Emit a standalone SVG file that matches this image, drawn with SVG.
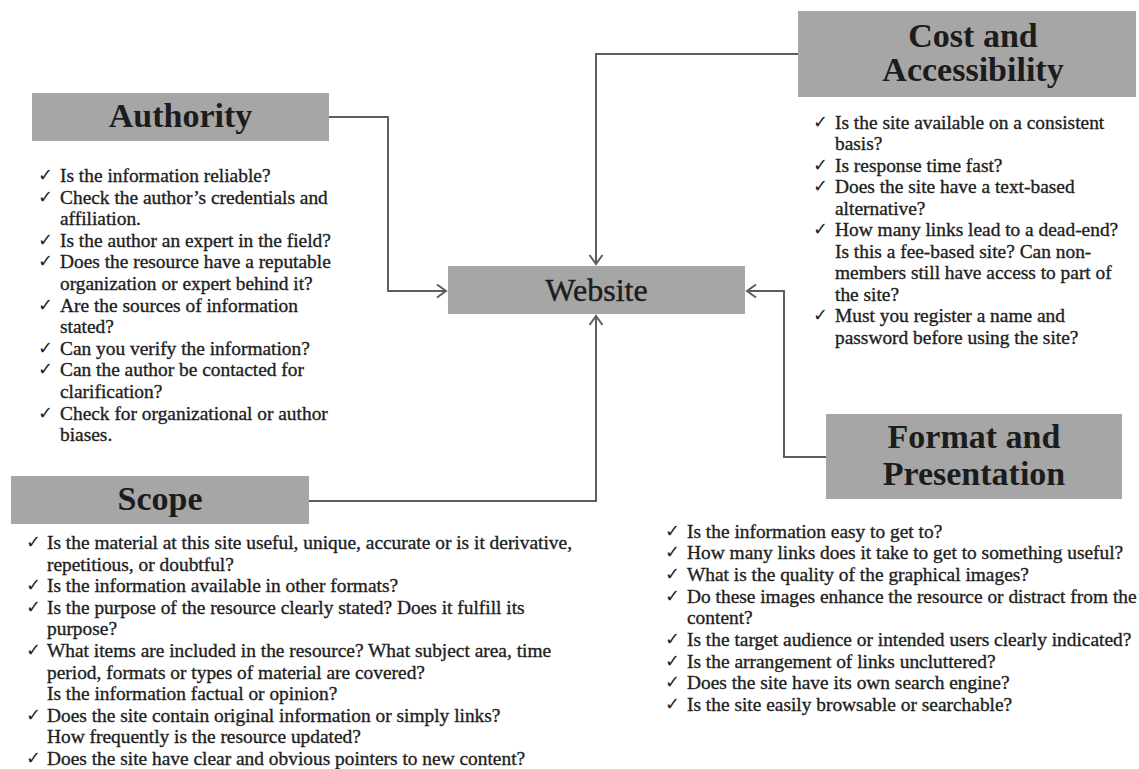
<svg xmlns="http://www.w3.org/2000/svg" width="1139" height="769" viewBox="0 0 1139 769">
<defs>
<style>
.box{fill:#a6a6a6;}
.title{font-family:"Liberation Serif","Times New Roman",serif;font-weight:bold;font-size:34px;fill:#1c1c1c;text-anchor:middle;}
.center{font-family:"Liberation Serif","Times New Roman",serif;font-size:32px;fill:#1c1c1c;stroke:#1c1c1c;stroke-width:0.4;text-anchor:middle;}
.item{font-family:"Liberation Serif","Times New Roman",serif;font-size:19.4px;fill:#1e1e1e;stroke:#1e1e1e;stroke-width:0.35;}
.chk{font-family:"DejaVu Sans",sans-serif;font-size:18px;font-weight:bold;fill:#1e1e1e;}
.conn{fill:none;stroke:#5e5e5e;stroke-width:2;}
</style>
<marker id="arr" markerUnits="userSpaceOnUse" markerWidth="14" markerHeight="16" refX="11" refY="8" orient="auto">
<path d="M2,1.5 L11,8 L2,14.5" fill="none" stroke="#5e5e5e" stroke-width="2"/>
</marker>
</defs>
<rect width="1139" height="769" fill="#ffffff"/>

<g id="connectors">
<path class="conn" d="M329,117 H388 V291 H446" marker-end="url(#arr)"/>
<path class="conn" d="M798,54 H596 V264" marker-end="url(#arr)"/>
<path class="conn" d="M309,501 H596 V316" marker-end="url(#arr)"/>
<path class="conn" d="M826,457 H784 V291 H747" marker-end="url(#arr)"/>
</g>

<g id="website">
<rect class="box" x="448" y="266" width="297" height="48"/>
<text class="center" x="596.5" y="301">Website</text>
</g>

<g id="authority">
<rect class="box" x="32" y="93" width="297" height="48"/>
<text class="title" x="180.5" y="127">Authority</text>
<g class="chk">
<text x="38" y="181">✓</text>
<text x="38" y="202.6">✓</text>
<text x="38" y="245.8">✓</text>
<text x="38" y="267.4">✓</text>
<text x="38" y="310.6">✓</text>
<text x="38" y="353.8">✓</text>
<text x="38" y="375.4">✓</text>
<text x="38" y="418.6">✓</text>
</g>
<g class="item">
<text x="60" y="182">Is the information reliable?</text>
<text x="60" y="203.6">Check the author’s credentials and</text>
<text x="60" y="225.2">affiliation.</text>
<text x="60" y="246.8">Is the author an expert in the field?</text>
<text x="60" y="268.4">Does the resource have a reputable</text>
<text x="60" y="290">organization or expert behind it?</text>
<text x="60" y="311.6">Are the sources of information</text>
<text x="60" y="333.2">stated?</text>
<text x="60" y="354.8">Can you verify the information?</text>
<text x="60" y="376.4">Can the author be contacted for</text>
<text x="60" y="398">clarification?</text>
<text x="60" y="419.6">Check for organizational or author</text>
<text x="60" y="441.2">biases.</text>
</g>
</g>

<g id="cost">
<rect class="box" x="798" y="11" width="338" height="86"/>
<text class="title" x="973" y="47">Cost and</text>
<text class="title" x="973" y="81">Accessibility</text>
<g class="chk">
<text x="813" y="127.5">✓</text>
<text x="813" y="170.5">✓</text>
<text x="813" y="192">✓</text>
<text x="813" y="235">✓</text>
<text x="813" y="321">✓</text>
</g>
<g class="item">
<text x="835" y="128.5">Is the site available on a consistent</text>
<text x="835" y="150">basis?</text>
<text x="835" y="171.5">Is response time fast?</text>
<text x="835" y="193">Does the site have a text-based</text>
<text x="835" y="214.5">alternative?</text>
<text x="835" y="236">How many links lead to a dead-end?</text>
<text x="835" y="257.5">Is this a fee-based site? Can non-</text>
<text x="835" y="279">members still have access to part of</text>
<text x="835" y="300.5">the site?</text>
<text x="835" y="322">Must you register a name and</text>
<text x="835" y="343.5">password before using the site?</text>
</g>
</g>

<g id="format">
<rect class="box" x="826" y="414" width="296" height="85"/>
<text class="title" x="974" y="448">Format and</text>
<text class="title" x="974" y="485">Presentation</text>
<g class="chk">
<text x="665" y="536.5">✓</text>
<text x="665" y="558.2">✓</text>
<text x="665" y="579.9">✓</text>
<text x="665" y="601.6">✓</text>
<text x="665" y="645">✓</text>
<text x="665" y="666.7">✓</text>
<text x="665" y="688.4">✓</text>
<text x="665" y="710.1">✓</text>
</g>
<g class="item">
<text x="687" y="537.5">Is the information easy to get to?</text>
<text x="687" y="559.2">How many links does it take to get to something useful?</text>
<text x="687" y="580.9">What is the quality of the graphical images?</text>
<text x="687" y="602.6">Do these images enhance the resource or distract from the</text>
<text x="687" y="624.3">content?</text>
<text x="687" y="646">Is the target audience or intended users clearly indicated?</text>
<text x="687" y="667.7">Is the arrangement of links uncluttered?</text>
<text x="687" y="689.4">Does the site have its own search engine?</text>
<text x="687" y="711.1">Is the site easily browsable or searchable?</text>
</g>
</g>

<g id="scope">
<rect class="box" x="11" y="476" width="298" height="48"/>
<text class="title" x="160" y="510">Scope</text>
<g class="chk">
<text x="26" y="548">✓</text>
<text x="26" y="591.2">✓</text>
<text x="26" y="612.8">✓</text>
<text x="26" y="656">✓</text>
<text x="26" y="720.8">✓</text>
<text x="26" y="764">✓</text>
</g>
<g class="item">
<text x="47" y="549">Is the material at this site useful, unique, accurate or is it derivative,</text>
<text x="47" y="570.6">repetitious, or doubtful?</text>
<text x="47" y="592.2">Is the information available in other formats?</text>
<text x="47" y="613.8">Is the purpose of the resource clearly stated? Does it fulfill its</text>
<text x="47" y="635.4">purpose?</text>
<text x="47" y="657">What items are included in the resource? What subject area, time</text>
<text x="47" y="678.6">period, formats or types of material are covered?</text>
<text x="47" y="700.2">Is the information factual or opinion?</text>
<text x="47" y="721.8">Does the site contain original information or simply links?</text>
<text x="47" y="743.4">How frequently is the resource updated?</text>
<text x="47" y="765">Does the site have clear and obvious pointers to new content?</text>
</g>
</g>
</svg>
